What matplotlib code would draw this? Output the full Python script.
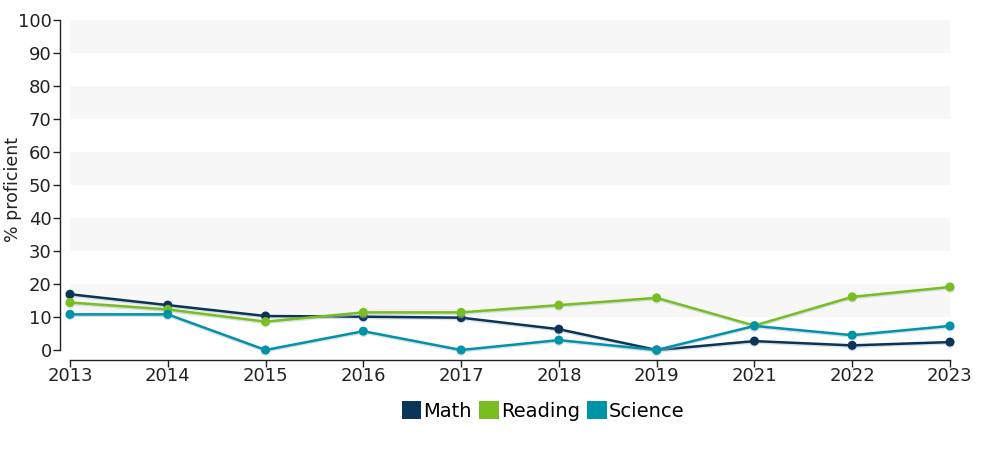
import matplotlib.pyplot as plt
from matplotlib.patches import Patch
import matplotlib.patheffects as pe

# data
years = ['2013', '2014', '2015', '2016', '2017', '2018', '2019', '2021', '2022', '2023']
math = [16.9, 13.6, 10.3, 10.1, 9.8, 6.3, 0.0, 2.7, 1.4, 2.4]
reading = [14.4, 12.3, 8.6, 11.4, 11.4, 13.6, 15.8, 7.4, 16.1, 19.1]
science = [10.8, 10.8, 0.0, 5.7, 0.0, 3.0, 0.0, 7.3, 4.5, 7.3]

colors = {'Math': '#0b3558', 'Reading': '#78be20', 'Science': '#0092a8'}

fig = plt.figure(figsize=(10, 4.5), dpi=100)
ax = fig.add_axes([0.07, 0.2, 0.88, 340 / 450])

x = list(range(len(years)))

# alternating light bands
for lo in range(10, 100, 20):
    ax.axhspan(lo, lo + 10, color='#f7f7f7', zorder=0, lw=0)

shadow = [pe.SimpleLineShadow(offset=(0, -1), shadow_color='#b0c4cc', alpha=0.5), pe.Normal()]
for name, vals in [('Math', math), ('Reading', reading), ('Science', science)]:
    ax.plot(x, vals, color=colors[name], lw=1.8, marker='o', ms=5.5,
            zorder=3, path_effects=shadow, clip_on=False)

ax.set_xlim(0, 9)
ax.set_ylim(-3.03, 100)
ax.set_xticks(x)
ax.set_xticklabels(years)
ax.set_yticks(range(0, 101, 10))

for s in ['top', 'right']:
    ax.spines[s].set_visible(False)
ax.spines['left'].set_position(('outward', 7.2))
ax.spines['left'].set_bounds(0, 100)
ax.spines['bottom'].set_bounds(0, 9)
for s in ['left', 'bottom']:
    ax.spines[s].set_color('#222222')
    ax.spines[s].set_linewidth(1)

ax.tick_params(axis='both', labelsize=13, colors='#222222', length=5, width=1, pad=1)
ax.tick_params(axis='x', pad=0)

ax.set_ylabel('% proficient', fontsize=12.5, color='#222222')
ax.yaxis.set_label_coords(-0.055, 0.5)

handles = [Patch(facecolor=colors[n], edgecolor='none', label=n) for n in ['Math', 'Reading', 'Science']]
fig.legend(handles=handles, loc='center', bbox_to_anchor=(0.543, 1 - 411 / 450), ncol=3,
           frameon=False, fontsize=14, handlelength=1.0, handleheight=1.0,
           handletextpad=0.1, columnspacing=0.4)

fig.savefig('out.png', dpi=100)
